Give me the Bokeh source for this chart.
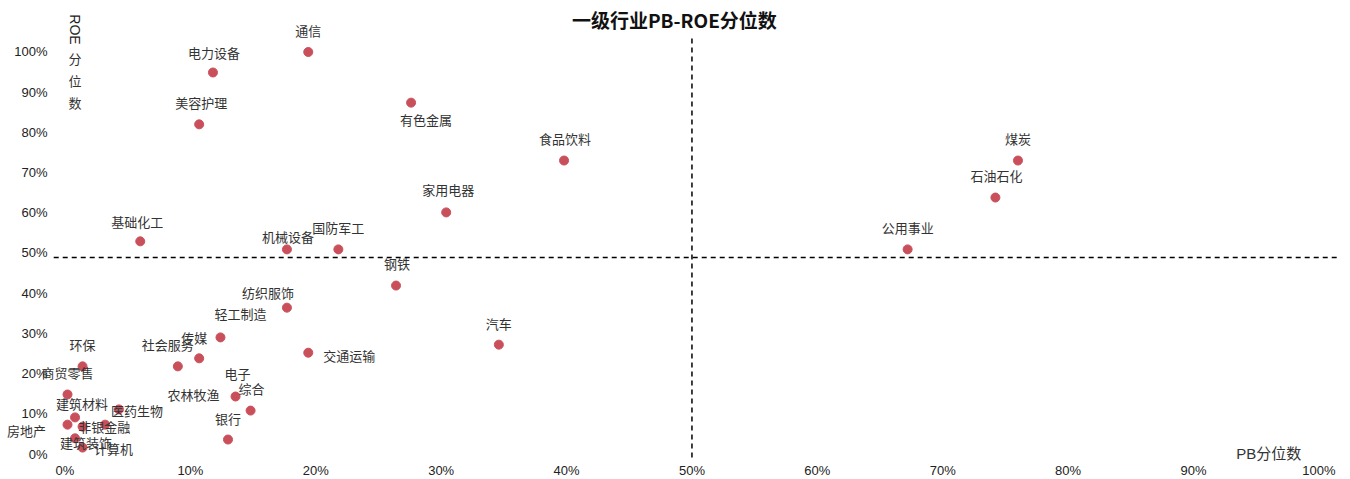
from bokeh.plotting import figure
from bokeh.models import Range1d, FixedTicker, PrintfTickFormatter, ColumnDataSource, Label
from bokeh.core.properties import value
from bokeh.embed import file_html
from bokeh.resources import INLINE

# ---- data (percentile, %) ----
industries = ["通信", "电力设备", "美容护理", "有色金属", "食品饮料", "煤炭", "石油石化", "家用电器",
              "公用事业", "基础化工", "机械设备", "国防军工", "钢铁", "纺织服饰", "汽车", "交通运输",
              "轻工制造", "传媒", "社会服务", "电子", "综合", "银行", "环保", "商贸零售",
              "建筑材料", "医药生物", "房地产", "非银金融", "农林牧渔", "建筑装饰", "计算机"]
pb_pct = [19.4, 11.8, 10.7, 27.6, 39.8, 76.0, 74.2, 30.4,
          67.2, 6.0, 17.7, 21.8, 26.4, 17.7, 34.6, 19.4,
          12.4, 10.7, 9.0, 13.6, 14.8, 13.0, 1.4, 0.2,
          0.8, 4.3, 0.2, 3.2, 1.4, 0.8, 1.4]
roe_pct = [100.0, 94.9, 82.0, 87.4, 73.0, 73.0, 63.8, 60.1,
           50.9, 52.9, 50.9, 50.9, 41.9, 36.4, 27.2, 25.2,
           29.0, 23.8, 21.8, 14.3, 10.8, 3.6, 21.8, 14.8,
           9.1, 11.1, 7.3, 7.3, 6.8, 3.9, 1.6]
pb_threshold = 50.0
roe_threshold = 48.9
tick_values = [0, 10, 20, 30, 40, 50, 60, 70, 80, 90, 100]

# ---- label placement (screen px, layout only) ----
label_dx = [0, 1, 2, 15, 1, 0, 1, 2,
            0, -3, 1, 0, 1, -19, 0, 41,
            20, -5, -10, 2, 1, 0, 0, 0,
            7, 18, -41, -1, 111, 11, 31]
label_dy = [-21, -20, -22, 17, -22, -22, -22, -23,
            -22, -20, -13, -22, -22, -15, -21, 3,
            -24, -21, -22, -23, -22, -21, -22, -22,
            -14, 1, 6, 2, -32, 4, 1]

src = ColumnDataSource(dict(x=pb_pct, y=roe_pct, name=industries, dx=label_dx, dy=label_dy))

p = figure(frame_width=1346, frame_height=462, output_backend="svg", toolbar_location=None,
           x_range=Range1d(-5.144, 102.2), y_range=Range1d(-2.114, 112.81),
           min_border_left=0, min_border_right=0, min_border_top=0, min_border_bottom=17)
p.outline_line_color = None
p.xgrid.visible = False
p.ygrid.visible = False
p.background_fill_color = "white"
p.border_fill_color = "white"

for ax in (p.xaxis[0], p.yaxis[0]):
    ax.ticker = FixedTicker(ticks=tick_values)
    ax.formatter = PrintfTickFormatter(format="%d%%")
    ax.axis_line_color = None
    ax.major_tick_line_color = None
    ax.minor_tick_line_color = None
    ax.major_tick_out = 0
    ax.major_tick_in = 0
    ax.minor_tick_out = 0
    ax.minor_tick_in = 0
    ax.major_label_text_font = "Liberation Sans"
    ax.major_label_text_font_size = "13px"
    ax.major_label_text_color = "#222222"
p.yaxis[0].major_label_standoff = -47
p.xaxis[0].major_label_standoff = 0

# reference lines
p.line(x=[pb_threshold, pb_threshold], y=[-0.9, 104.3], line_color="black", line_width=1.5, line_dash="5 4")
p.line(x=[-0.9, 101.6], y=[roe_threshold, roe_threshold], line_color="black", line_width=1.5, line_dash="5 4")

p.scatter("x", "y", source=src, size=9, fill_color="#C9505B", line_color="#C9505B")
p.text("x", "y", text="name", source=src, x_offset="dx", y_offset="dy",
       text_font=value("Noto Sans CJK SC"), text_font_size="13px", text_color="#333333",
       text_align="center", text_baseline="middle")

# title and axis captions
p.add_layout(Label(x=48.6, y=108.1, text="一级行业PB-ROE分位数", text_font="Noto Sans CJK SC",
                   text_font_size="19px", text_font_style="bold", text_color="#111111",
                   text_align="center", text_baseline="middle"))
p.add_layout(Label(x=0.76, y=105.6, text="ROE", angle=-1.5708, text_font="Liberation Sans",
                   text_font_size="14px", text_color="#222222",
                   text_align="center", text_baseline="middle"))
for i, ch in enumerate("分位数"):
    p.add_layout(Label(x=0.8, y=98.4 - 5.5 * i, text=ch, text_font="Noto Sans CJK SC",
                       text_font_size="13px", text_color="#333333",
                       text_align="center", text_baseline="middle"))
p.add_layout(Label(x=96.0, y=0.1, text="PB分位数", text_font="'Liberation Sans', 'Noto Sans CJK SC'",
                   text_font_size="15px", text_color="#333333",
                   text_align="center", text_baseline="middle"))

open("out.html", "w").write(file_html(p, INLINE))
